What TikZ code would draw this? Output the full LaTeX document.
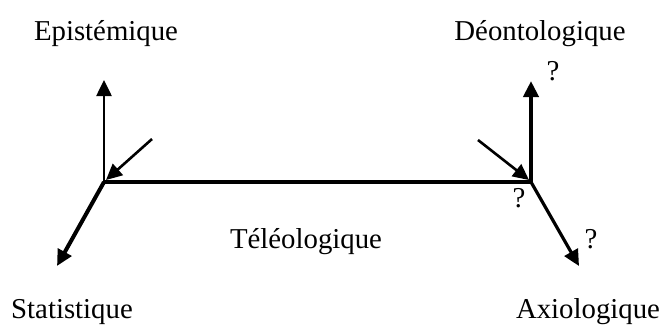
\documentclass[tikz,border=0pt]{standalone}
\usepackage{fontspec}
\setmainfont{Liberation Serif}
\usetikzlibrary{arrows.meta}
\begin{document}
\begin{tikzpicture}[x=0.5pt,y=-0.5pt,
  lbl/.style={inner sep=0pt,anchor=base,font=\fontsize{14.4}{17}\selectfont},
  tip/.style={-{Triangle[length=8pt,width=7.5pt]}},
  thin axis/.style={tip,line width=1.3pt},
  thick axis/.style={tip,line width=2pt}]
\useasboundingbox (0,0) rectangle (662,329);
% origins and ends
\coordinate (O1) at (104,182);
\coordinate (O2) at (531,182);
\coordinate (E) at (104,80);
\coordinate (S) at (57,266);
\coordinate (D) at (531,81);
\coordinate (A) at (579,266);
\coordinate (i1) at (152,139);
\coordinate (t1) at (106,180);
\coordinate (i2) at (478,140);
\coordinate (t2) at (529,180);
% labels
\node[lbl] (ep) at (106,40) {Epistémique};
\node[lbl] (de) at (540,40) {Déontologique};
\node[lbl] (st) at (72,318) {Statistique};
\node[lbl] (ax) at (588,318) {Axiologique};
\node[lbl] (te) at (306,248) {Téléologique};
\node[lbl] (q1) at (553,80) {?};
\node[lbl] (q2) at (519,207) {?};
\node[lbl] (q3) at (591,248) {?};
% axes
\draw[line width=2pt] (O1) -- (O2);
\draw[thin axis] (O1) -- (E);
\draw[thick axis] (O1) -- (S);
\draw[thick axis] (O2) -- (D);
\draw[tip,line width=1.6pt] (O2) -- (A);
\draw[thin axis] (i1) -- (t1);
\draw[thin axis] (i2) -- (t2);
\end{tikzpicture}
\end{document}
